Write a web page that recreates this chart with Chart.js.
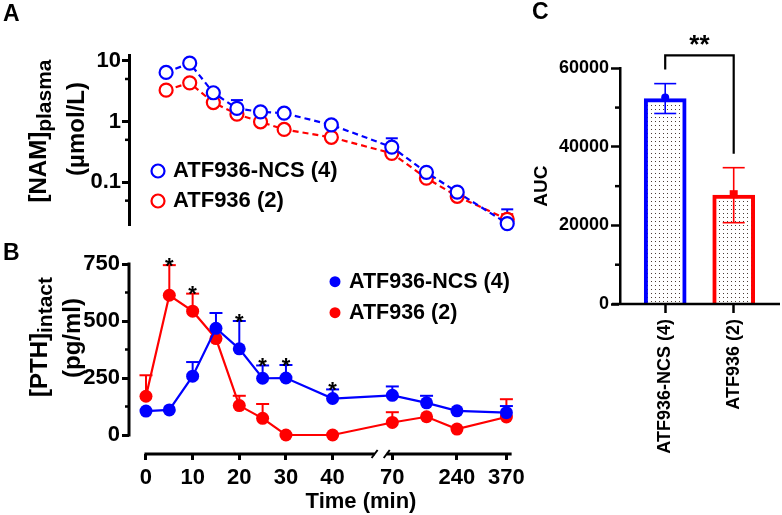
<!DOCTYPE html>
<html><head><meta charset="utf-8">
<script src="https://cdn.jsdelivr.net/npm/chart.js@4.4.1/dist/chart.umd.min.js"></script>
<style>
html,body{margin:0;padding:0;background:#fff;overflow:hidden;}
#fig{position:relative;width:782px;height:515px;background:#fff;}
canvas{position:absolute;display:block;}
</style></head>
<body><div id="fig">
<canvas id="chartA" width="530" height="240" style="left:0;top:0"></canvas>
<canvas id="chartB" width="530" height="275" style="left:0;top:240px"></canvas>
<canvas id="chartC" width="252" height="515" style="left:530px;top:0"></canvas>
</div>
<script>
const FONT = '"Liberation Sans", Arial, Helvetica, sans-serif';
const BLUE = 'rgb(0,0,255)';
const RED = 'rgb(255,0,0)';
const seriesNames = ['ATF936-NCS (4)', 'ATF936 (2)'];

// ---- Panel A: plasma NAM (µmol/L), log axis ----
const namTimes = [5, 10, 15, 20, 25, 30, 40, 70, 160, 240, 370];
const namNCS = [6.4, 9.1, 2.97, 1.64, 1.44, 1.37, 0.88, 0.38, 0.146, 0.069, 0.021];
const namNCSsem = [0, 0, 0, 0.61, 0, 0, 0, 0.15, 0, 0, 0.015];
const namATF = [3.28, 4.32, 2.05, 1.32, 0.99, 0.74, 0.55, 0.30, 0.117, 0.059, 0.0247];
const namATFsem = [0, 0, 0, 0, 0, 0, 0, 0, 0, 0, 0.0053];
const namTicks = [10, 1, 0.1];
const namMinorTicks = [5, 0.5, 0.05];

// ---- Panel B: intact PTH (pg/ml) ----
const pthTimes = [0, 5, 10, 15, 20, 25, 30, 40, 70, 160, 240, 370];
const pthNCS = [105, 110, 258, 468, 378, 249, 250, 160, 174, 141, 106, 98];
const pthNCSsem = [0, 0, 62, 67, 122, 56, 57, 40, 39, 31, 0, 29];
const pthATF = [170, 613, 543, 423, 129, 73, 0, 0, 55, 80, 26, 79];
const pthATFsem = [92, 132, 77, 0, 43, 63, 0, 0, 45, 0, 0, 78];
const sigTimes = [5, 10, 20, 25, 30, 40];
const timeTicks = [0, 10, 20, 30, 40, 70, 240, 370];
const pthTicks = [0, 250, 500, 750];
const pthMinorTicks = [125, 375, 625];

// ---- Panel C: AUC ----
const aucMean = [52300, 27700];
const aucSem = [3800, 7000];
const aucTicks = [0, 20000, 40000, 60000];
const aucMinorTicks = [10000, 30000, 50000];

// broken time axis: linear 0-40 min, then compressed segment from 70 min
const AXIS_BREAK = {lastBefore: 40, firstAfter: 70, afterStart: 52.8, afterRate: 0.0815, gapFrom: 49.0, gapTo: 51.6};
function axisPos(t) {
  return t <= AXIS_BREAK.lastBefore ? t : AXIS_BREAK.afterStart + (t - AXIS_BREAK.firstAfter) * AXIS_BREAK.afterRate;
}

Chart.defaults.font.family = FONT;
Chart.defaults.color = '#000';

function px(chart, axis, v) { return chart.scales[axis].getPixelForValue(v); }
function seg(ctx, x1, y1, x2, y2, w, c) {
  ctx.save(); ctx.strokeStyle = c; ctx.lineWidth = w; ctx.setLineDash([]); ctx.lineCap = 'butt';
  ctx.beginPath(); ctx.moveTo(x1, y1); ctx.lineTo(x2, y2); ctx.stroke(); ctx.restore();
}
function txt(ctx, s, x, y, size, align, baseline) {
  ctx.save(); ctx.fillStyle = '#000'; ctx.font = 'bold ' + size + 'px ' + FONT;
  ctx.textAlign = align || 'left'; ctx.textBaseline = baseline || 'middle';
  ctx.fillText(s, x, y); ctx.restore();
}
function rotatedTitle(ctx, cx, cy, parts) {
  ctx.save(); ctx.translate(cx, cy); ctx.rotate(-Math.PI / 2);
  ctx.fillStyle = '#000'; ctx.textBaseline = 'middle'; ctx.textAlign = 'left';
  let total = 0;
  parts.forEach(p => { ctx.font = 'bold ' + p.size + 'px ' + FONT; p.w = ctx.measureText(p.text).width; total += p.w; });
  let u = -total / 2;
  parts.forEach(p => { ctx.font = 'bold ' + p.size + 'px ' + FONT; ctx.fillText(p.text, u, p.dy); u += p.w; });
  ctx.restore();
}
function upperErrors(chart, times, means, sems, color, capW, lw) {
  const ctx = chart.ctx;
  times.forEach((t, i) => {
    if (!sems[i]) return;
    const x = px(chart, 'x', axisPos(t));
    const y0 = px(chart, 'y', means[i]);
    const y1 = px(chart, 'y', means[i] + sems[i]);
    seg(ctx, x, y0, x, y1, lw, color);
    seg(ctx, x - capW / 2, y1, x + capW / 2, y1, lw, color);
  });
}
const baseOpts = {responsive: false, animation: false, devicePixelRatio: 1, events: [],
  plugins: {legend: {display: false}, tooltip: {enabled: false}}};

// ================= Panel A =================
new Chart(document.getElementById('chartA'), {
  type: 'line',
  data: {datasets: [
    {label: seriesNames[0], data: namTimes.map((t, i) => ({x: axisPos(t), y: namNCS[i]})),
     borderColor: BLUE, borderWidth: 2.2, borderDash: [6, 4], pointRadius: 6.5, pointBorderWidth: 2.2,
     pointBackgroundColor: '#fff', pointBorderColor: BLUE, tension: 0, clip: false},
    {label: seriesNames[1], data: namTimes.map((t, i) => ({x: axisPos(t), y: namATF[i]})),
     borderColor: RED, borderWidth: 2.2, borderDash: [6, 4], pointRadius: 6.5, pointBorderWidth: 2.2,
     pointBackgroundColor: '#fff', pointBorderColor: RED, tension: 0, clip: false}
  ]},
  options: Object.assign({}, baseOpts, {
    layout: {padding: {top: 55, bottom: 12, left: 0, right: 18}},
    scales: {
      x: {type: 'linear', display: false, min: -2.86, max: 78.26},
      y: {type: 'logarithmic', min: 0.0193, max: 12.4,
        afterFit: s => { s.width = 129; },
        afterBuildTicks: s => { s.ticks = namTicks.map(v => ({value: v})); },
        ticks: {font: {size: 22, weight: 'bold'}, color: '#000', padding: 1, callback: v => String(v)},
        grid: {drawOnChartArea: false, tickLength: 7, tickWidth: 3, tickColor: '#000'},
        border: {display: true, width: 3, color: '#000'}}
    }
  }),
  plugins: [{id: 'panelA',
    beforeDatasetsDraw(chart) {
      upperErrors(chart, namTimes, namATF, namATFsem, RED, 12, 2);
      upperErrors(chart, namTimes, namNCS, namNCSsem, BLUE, 12, 2);
    },
    afterDraw(chart) {
      const ctx = chart.ctx, ca = chart.chartArea;
      namMinorTicks.forEach(v => { const y = px(chart, 'y', v); seg(ctx, ca.left - 4, y, ca.left, y, 2.5, '#000'); });
      // legend
      [[BLUE, 171, 0], [RED, 201, 1]].forEach(([c, y, i]) => {
        ctx.save(); ctx.strokeStyle = c; ctx.lineWidth = 2.2; ctx.fillStyle = '#fff';
        ctx.beginPath(); ctx.arc(158, y, 6.5, 0, Math.PI * 2); ctx.fill(); ctx.stroke(); ctx.restore();
        txt(ctx, seriesNames[i], 173, y, 22);
      });
      rotatedTitle(ctx, 39, 131, [{text: '[NAM]', size: 24, dy: 0}, {text: 'plasma', size: 21, dy: 6}]);
      rotatedTitle(ctx, 77, 129, [{text: '(µmol/L)', size: 24, dy: 0}]);
      txt(ctx, 'A', 3, 15, 23);
    }
  }]
});

// ================= Panel B =================
new Chart(document.getElementById('chartB'), {
  type: 'line',
  data: {datasets: [
    {label: seriesNames[0], data: pthTimes.map((t, i) => ({x: axisPos(t), y: pthNCS[i]})),
     borderColor: BLUE, backgroundColor: BLUE, borderWidth: 2.2, pointRadius: 6.5, pointBorderWidth: 0,
     pointBackgroundColor: BLUE, tension: 0, clip: false},
    {label: seriesNames[1], data: pthTimes.map((t, i) => ({x: axisPos(t), y: pthATF[i]})),
     borderColor: RED, backgroundColor: RED, borderWidth: 2.2, pointRadius: 6.5, pointBorderWidth: 0,
     pointBackgroundColor: RED, tension: 0, clip: false}
  ]},
  options: Object.assign({}, baseOpts, {
    layout: {padding: {top: 24, bottom: 0, left: 0, right: 18}},
    scales: {
      x: {type: 'linear', min: -3.64, max: 78.37,
        afterBuildTicks: s => { s.ticks = timeTicks.map(t => ({value: axisPos(t)})); },
        afterFit: s => { s.height = 61; },
        ticks: {autoSkip: false, maxRotation: 0, minRotation: 0, font: {size: 22, weight: 'bold'}, color: '#000', padding: 5,
          callback: (v, i) => String(timeTicks[i])},
        grid: {drawOnChartArea: false, tickLength: 6, tickWidth: 3, tickColor: '#000'},
        border: {display: false}},
      y: {type: 'linear', min: -83.3, max: 750,
        afterFit: s => { s.width = 129; },
        afterBuildTicks: s => { s.ticks = pthTicks.map(v => ({value: v})); },
        ticks: {font: {size: 22, weight: 'bold'}, color: '#000', padding: 2, callback: v => String(v)},
        grid: {drawOnChartArea: false, tickLength: 7, tickWidth: 3, tickColor: '#000'},
        border: {display: false}}
    }
  }),
  plugins: [{id: 'panelB',
    beforeDatasetsDraw(chart) {
      upperErrors(chart, pthTimes, pthATF, pthATFsem, RED, 13, 2);
      upperErrors(chart, pthTimes, pthNCS, pthNCSsem, BLUE, 13, 2);
    },
    afterDraw(chart) {
      const ctx = chart.ctx, ca = chart.chartArea;
      // y axis line (0..750 only)
      seg(ctx, ca.left, px(chart, 'y', 750) - 1.5, ca.left, px(chart, 'y', 0) + 1.5, 3, '#000');
      pthMinorTicks.forEach(v => { const y = px(chart, 'y', v); seg(ctx, ca.left - 4, y, ca.left, y, 2.5, '#000'); });
      // x axis line with break
      const yb = ca.bottom;
      const xa = px(chart, 'x', 0) - 1.5, xg1 = px(chart, 'x', AXIS_BREAK.gapFrom), xg2 = px(chart, 'x', AXIS_BREAK.gapTo);
      seg(ctx, xa, yb, xg1, yb, 3, '#000');
      seg(ctx, xg2, yb, ca.right, yb, 3, '#000');
      seg(ctx, xg1 - 3, yb + 4, xg1 + 3, yb - 4, 2, '#000');
      seg(ctx, xg2 - 3, yb + 4, xg2 + 3, yb - 4, 2, '#000');
      // significance stars
      sigTimes.forEach(t => {
        const i = pthTimes.indexOf(t);
        const top = Math.max(pthNCS[i] + pthNCSsem[i], pthATF[i] + pthATFsem[i]);
        txt(ctx, '*', px(chart, 'x', axisPos(t)), px(chart, 'y', top) + 7.5, 22, 'center', 'alphabetic');
      });
      // legend
      [[BLUE, 41.7, 0], [RED, 72.7, 1]].forEach(([c, y, i]) => {
        ctx.save(); ctx.fillStyle = c; ctx.beginPath(); ctx.arc(335, y, 5.5, 0, Math.PI * 2); ctx.fill(); ctx.restore();
        txt(ctx, seriesNames[i], 349, y, 21.5);
      });
      rotatedTitle(ctx, 40, 97, [{text: '[PTH]', size: 24, dy: 0}, {text: 'intact', size: 21, dy: 6}]);
      rotatedTitle(ctx, 73, 98, [{text: '(pg/ml)', size: 24, dy: 0}]);
      txt(ctx, 'Time (min)', 361, 262, 22, 'center');
      txt(ctx, 'B', 3, 14, 23);
    }
  }]
});

// ================= Panel C =================
const cC = document.getElementById('chartC');
const tile = document.createElement('canvas'); tile.width = 4; tile.height = 4;
const tg = tile.getContext('2d'); tg.fillStyle = '#fff'; tg.fillRect(0, 0, 4, 4);
tg.fillStyle = '#4a3c35'; tg.fillRect(1, 1, 1, 1);
const dots = cC.getContext('2d').createPattern(tile, 'repeat');

new Chart(cC, {
  type: 'bar',
  data: {datasets: [{data: aucMean.map((v, i) => ({x: i, y: v})), backgroundColor: dots,
    borderColor: [BLUE, RED], borderWidth: 4, barThickness: 42, borderSkipped: 'bottom'}]},
  options: Object.assign({}, baseOpts, {
    layout: {padding: {top: 68.3, right: 2, left: 0, bottom: 0}},
    scales: {
      x: {type: 'linear', offset: false, min: -0.66, max: 1.676,
        afterBuildTicks: s => { s.ticks = seriesNames.map((n, i) => ({value: i})); },
        afterFit: s => { s.height = 211; },
        ticks: {autoSkip: false, minRotation: 90, maxRotation: 90, font: {size: 18, weight: 'bold'}, color: '#000', padding: 6,
          callback: (v, i) => seriesNames[i]},
        grid: {offset: false, drawOnChartArea: false, tickLength: 9, tickWidth: 2.5, tickColor: '#000'},
        border: {display: false}},
      y: {type: 'linear', min: 0, max: 60000,
        afterFit: s => { s.width = 90; },
        afterBuildTicks: s => { s.ticks = aucTicks.map(v => ({value: v})); },
        ticks: {font: {size: 18, weight: 'bold'}, color: '#000', padding: 2, callback: v => String(v)},
        grid: {drawOnChartArea: false, tickLength: 9, tickWidth: 2.5, tickColor: '#000'},
        border: {display: true, width: 2.5, color: '#000'},
        title: {display: true, text: 'AUC', font: {size: 19, weight: 'bold'}, color: '#000', padding: {top: 0, bottom: 0}}}
    }
  }),
  plugins: [{id: 'panelC',
    afterDatasetsDraw(chart) {
      const ctx = chart.ctx;
      const xs = aucMean.map((m, i) => px(chart, 'x', i));
      aucMean.forEach((m, i) => {
        const c = [BLUE, RED][i];
        const yt = px(chart, 'y', m + aucSem[i]), yb = px(chart, 'y', m - aucSem[i]);
        seg(ctx, xs[i], yb, xs[i], yt, 1.6, c);
        seg(ctx, xs[i] - 11, yt, xs[i] + 11, yt, 1.6, c);
        seg(ctx, xs[i] - 11, yb, xs[i] + 11, yb, 1.6, c);
        const ym = px(chart, 'y', m) - 1;
        ctx.save(); ctx.fillStyle = c;
        if (i === 0) { ctx.beginPath(); ctx.arc(xs[i], ym, 4, 0, Math.PI * 2); ctx.fill(); }
        else { ctx.fillRect(xs[i] - 4, ym - 4, 8, 8); }
        ctx.restore();
      });
    },
    afterDraw(chart) {
      const ctx = chart.ctx, ca = chart.chartArea;
      const xs = aucMean.map((m, i) => px(chart, 'x', i));
      seg(ctx, ca.left - 8, ca.bottom, ca.right, ca.bottom, 2.5, '#000');
      aucMinorTicks.forEach(v => { const y = px(chart, 'y', v); seg(ctx, ca.left - 5, y, ca.left, y, 2.5, '#000'); });
      const top = px(chart, 'y', 60000) - 13;
      const lb = px(chart, 'y', aucMean[0] + aucSem[0]) - 14;
      const rb = px(chart, 'y', aucMean[1] + aucSem[1]) - 14;
      ctx.save(); ctx.strokeStyle = '#000'; ctx.lineWidth = 2.2;
      ctx.beginPath(); ctx.moveTo(xs[0], lb); ctx.lineTo(xs[0], top); ctx.lineTo(xs[1], top); ctx.lineTo(xs[1], rb); ctx.stroke();
      ctx.restore();
      txt(ctx, '**', (xs[0] + xs[1]) / 2, top - 2, 26, 'center', 'alphabetic');
      txt(ctx, 'C', 2, 13, 23);
    }
  }]
});
</script>
</body></html>
